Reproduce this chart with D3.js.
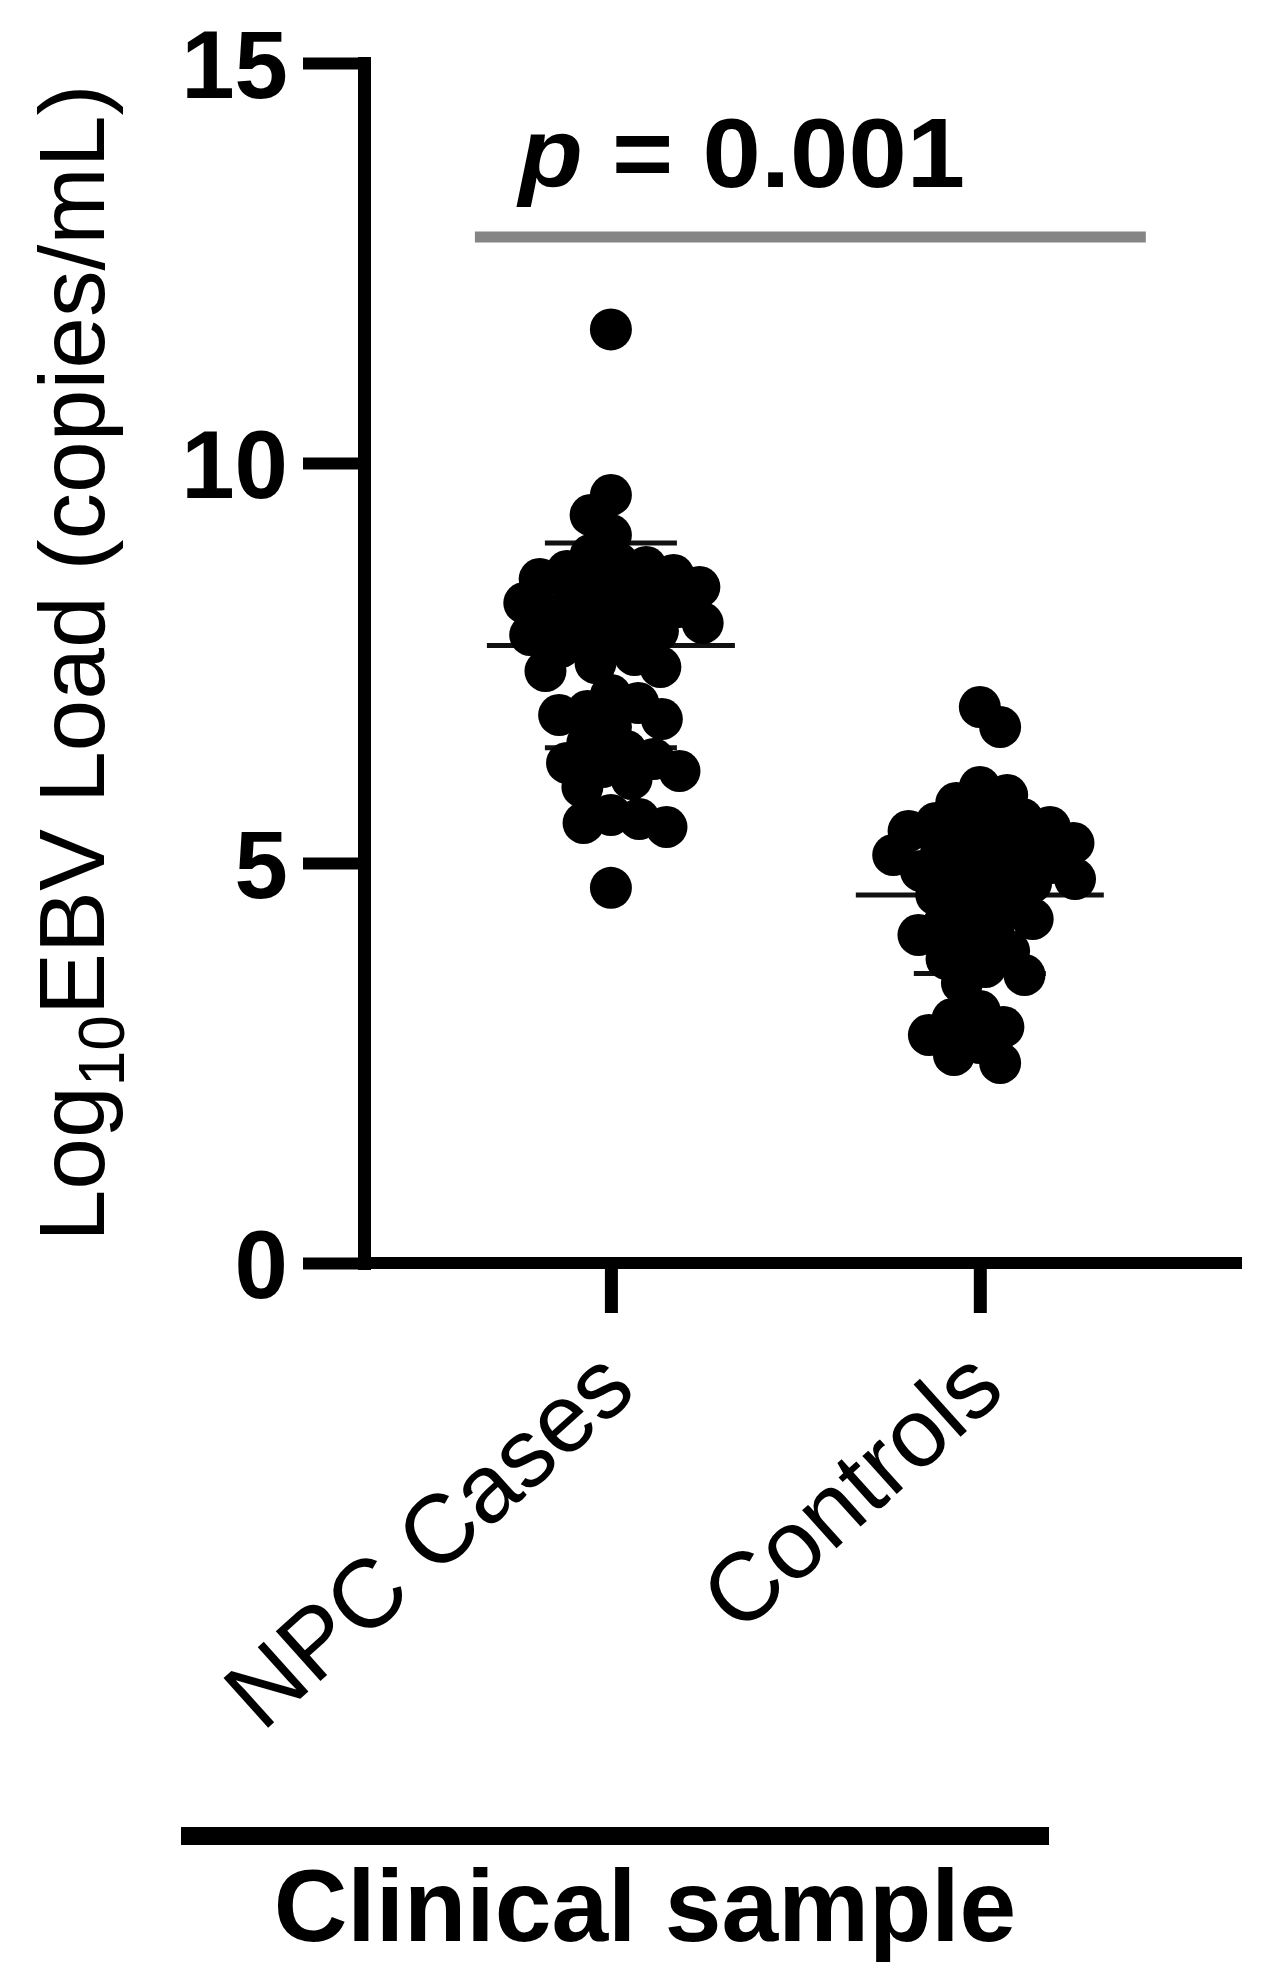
<!DOCTYPE html>
<html>
<head>
<meta charset="utf-8">
<script src="https://cdn.jsdelivr.net/npm/d3@7"></script>
<style>
  html, body { margin: 0; padding: 0; background: #fff; }
  svg { display: block; }
  text { font-family: "Liberation Sans", Arial, Helvetica, sans-serif; fill: #000; }
</style>
</head>
<body>
<svg id="chart" width="1262" height="1980"></svg>
<script>
// ---------------- data ----------------
const categories = ["NPC Cases", "Controls"];
const npcValues = [
  11.67,
  9.6, 9.35, 9.1,
  8.85, 8.75, 8.7, 8.65, 8.6, 8.55, 8.5, 8.45, 8.4, 8.35, 8.3, 8.25, 8.2, 8.15, 8.1, 8.05,
  8.0, 7.95, 7.9, 7.85, 7.8, 7.7, 7.6, 7.5, 7.45, 7.4,
  7.1, 7.0, 6.9, 6.85, 6.8, 6.7,
  6.5, 6.4, 6.3, 6.25, 6.2, 6.15, 6.05, 5.95,
  5.6, 5.55, 5.5, 5.45,
  4.69
];
const controlValues = [
  6.95, 6.7,
  5.95, 5.85, 5.75,
  5.6, 5.55, 5.5, 5.45, 5.4, 5.35, 5.3, 5.25, 5.2, 5.15, 5.1, 5.05, 5.0, 4.95, 4.9, 4.85, 4.8, 4.75, 4.7, 4.6,
  4.5, 4.4, 4.3, 4.25, 4.2, 4.1, 4.0,
  3.9, 3.8, 3.7, 3.6, 3.5,
  3.15, 3.05, 2.95, 2.85, 2.75, 2.6, 2.5
];
const meanValues = [7.72, 4.6];
const sdValues = [1.28, 0.98];
const yTicks = [0, 5, 10, 15];
const yDomain = [0, 15];
const pValueText = "0.001";
const xTitle = "Clinical sample";

// ---------------- layout ----------------
const W = 1262, H = 1980;
const mLeft = 364, mRight = 1242, mTop = 63, mBottom = 1263;
const axisW = 13;
const dotR = 21;
const swarmD = 28.5;

const svg = d3.select("#chart");
svg.append("rect").attr("width", W).attr("height", H).attr("fill", "#fff");

const y = d3.scaleLinear().domain(yDomain).range([mBottom, mTop]);
const x = d3.scalePoint().domain(categories).range([mLeft, mRight]).padding(0.69).align(0.485);

// ---------------- y axis ----------------
const yAxis = d3.axisLeft(y).tickValues(yTicks).tickSize(61).tickSizeOuter(0).tickPadding(15);
const gy = svg.append("g").attr("transform", `translate(${mLeft},0)`).call(yAxis);
gy.select(".domain").attr("stroke", "#000").attr("stroke-width", axisW).attr("stroke-linecap", "square");
gy.selectAll(".tick line").attr("stroke", "#000").attr("stroke-width", 12);
gy.selectAll(".tick text")
  .attr("font-size", 96).attr("font-weight", "bold")
  .attr("font-family", "'Liberation Sans', Arial, sans-serif")
  .attr("fill", "#000").attr("dy", "0.36em");

// ---------------- x axis ----------------
svg.append("line")
  .attr("x1", mLeft).attr("x2", mRight)
  .attr("y1", y(0)).attr("y2", y(0))
  .attr("stroke", "#000").attr("stroke-width", 12);
const xAxis = d3.axisBottom(x).tickSize(50).tickSizeOuter(0).tickFormat("");
const gx = svg.append("g").attr("transform", `translate(0,${y(0)})`).call(xAxis);
gx.select(".domain").remove();
gx.selectAll(".tick line").attr("stroke", "#000").attr("stroke-width", 13);

// category labels (rotated)
svg.append("g").selectAll("text").data(categories).join("text")
  .attr("transform", d => `translate(${x(d) + 28},1394) rotate(-42)`)
  .attr("text-anchor", "end")
  .attr("font-size", 97)
  .text(d => d);

// ---------------- y label ----------------
const yl = svg.append("text")
  .attr("transform", `translate(104,${(mTop + mBottom) / 2}) rotate(-90)`)
  .attr("text-anchor", "middle")
  .attr("font-size", 93);
yl.append("tspan").text("Log");
yl.append("tspan").attr("font-size", 64).attr("dy", 20).text("10");
yl.append("tspan").attr("dy", -20).text("EBV Load (copies/mL)");

// ---------------- mean / SD lines ----------------
const stats = categories.map((c, i) => ({ c, m: meanValues[i], sd: sdValues[i] }));
const lineG = svg.append("g").attr("stroke", "#111").attr("stroke-width", 5);
stats.forEach(s => {
  const cx = x(s.c);
  lineG.append("line").attr("x1", cx - 124).attr("x2", cx + 124).attr("y1", y(s.m)).attr("y2", y(s.m));
  lineG.append("line").attr("x1", cx).attr("x2", cx).attr("y1", y(s.m + s.sd)).attr("y2", y(s.m - s.sd));
  lineG.append("line").attr("x1", cx - 66).attr("x2", cx + 66).attr("y1", y(s.m + s.sd)).attr("y2", y(s.m + s.sd));
  lineG.append("line").attr("x1", cx - 66).attr("x2", cx + 66).attr("y1", y(s.m - s.sd)).attr("y2", y(s.m - s.sd));
});

// ---------------- beeswarm ----------------
function swarm(values, D) {
  const pts = values.map((v, i) => ({ v, i, py: y(v) }));
  const placed = [];
  pts.forEach((p, k) => {
    const iv = [];
    placed.forEach(q => {
      const dy = p.py - q.py;
      if (Math.abs(dy) < D) {
        const dx = Math.sqrt(D * D - dy * dy);
        iv.push([q.dx - dx, q.dx + dx]);
      }
    });
    const cands = [0];
    iv.forEach(([a, b]) => cands.push(a, b));
    const sgn = k % 2 ? 1 : -1;
    cands.sort((a, b) => (Math.abs(a) - Math.abs(b)) || (sgn * (b - a)));
    p.dx = 0;
    for (const c of cands) {
      if (iv.every(([a, b]) => c <= a + 1e-6 || c >= b - 1e-6)) { p.dx = c; break; }
    }
    placed.push(p);
  });
  return placed;
}

const groups = [
  { c: categories[0], vals: npcValues },
  { c: categories[1], vals: controlValues }
];
const dotG = svg.append("g");
groups.forEach(g => {
  const pts = swarm(g.vals, swarmD);
  dotG.append("g").selectAll("circle").data(pts).join("circle")
    .attr("cx", d => x(g.c) + d.dx)
    .attr("cy", d => d.py)
    .attr("r", dotR)
    .attr("fill", "#000");
});

// ---------------- p-value ----------------
const pt = svg.append("text")
  .attr("transform", "translate(742,187) scale(1.06,1)")
  .attr("text-anchor", "middle")
  .attr("font-size", 99)
  .attr("font-weight", "bold");
pt.append("tspan").attr("font-style", "italic").text("p");
pt.append("tspan").text(" = " + pValueText);

svg.append("line")
  .attr("x1", x(categories[0]) - 136).attr("x2", x(categories[1]) + 166)
  .attr("y1", 237).attr("y2", 237)
  .attr("stroke", "#858585").attr("stroke-width", 11);

// ---------------- group bar + title ----------------
svg.append("line")
  .attr("x1", 181).attr("x2", 1049)
  .attr("y1", 1836).attr("y2", 1836)
  .attr("stroke", "#000").attr("stroke-width", 18);
svg.append("text")
  .attr("x", 645).attr("y", 1941)
  .attr("text-anchor", "middle")
  .attr("font-size", 102).attr("font-weight", "bold")
  .text(xTitle);
</script>
</body>
</html>
